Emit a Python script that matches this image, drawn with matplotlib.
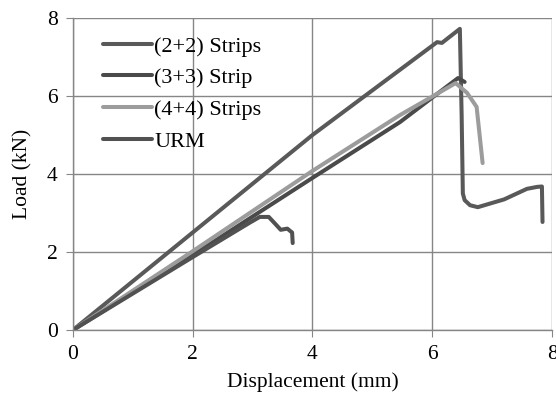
import matplotlib
matplotlib.use('Agg')
import matplotlib.pyplot as plt

plt.rcParams['font.family'] = ['Liberation Serif', 'DejaVu Serif']

# displacement (mm) / load (kN)
x_22 = [0, 2, 4, 6.08, 6.16, 6.46, 6.49, 6.51, 6.54, 6.63, 6.76, 7.2, 7.58, 7.75, 7.83, 7.84]
y_22 = [0, 2.5, 5.0, 7.38, 7.36, 7.72, 5.5, 3.5, 3.33, 3.2, 3.15, 3.35, 3.62, 3.67, 3.68, 2.77]

x_33 = [0, 2, 4, 5.46, 6.43, 6.54]
y_33 = [0, 1.92, 3.9, 5.33, 6.46, 6.36]

x_44 = [0, 2, 4, 5.46, 6.39, 6.58, 6.74, 6.84]
y_44 = [0, 2.02, 4.08, 5.51, 6.33, 6.08, 5.72, 4.28]

x_urm = [0, 2, 2.95, 3.12, 3.27, 3.38, 3.47, 3.58, 3.66, 3.67]
y_urm = [0, 1.87, 2.75, 2.9, 2.9, 2.72, 2.57, 2.6, 2.5, 2.23]

labels = ['(2+2) Strips', '(3+3) Strip', '(4+4) Strips', 'URM']

fig = plt.figure(figsize=(5.56, 4.08), dpi=100)
ax = fig.add_axes([0.131, 0.191, 0.862, 0.765])

lw = 2.9
ax.plot(x_22, y_22, color='#595959', lw=lw, label=labels[0], solid_joinstyle='round', solid_capstyle='round')
ax.plot(x_33, y_33, color='#4a4a4a', lw=lw, label=labels[1], solid_joinstyle='round', solid_capstyle='round')
ax.plot(x_44, y_44, color='#9c9c9c', lw=lw, label=labels[2], solid_joinstyle='round', solid_capstyle='round')
ax.plot(x_urm, y_urm, color='#515151', lw=lw, label=labels[3], solid_joinstyle='round', solid_capstyle='round')

ax.set_xlim(0, 8)
ax.set_ylim(0, 8)
ax.set_xticks([0, 2, 4, 6, 8])
ax.set_yticks([0, 2, 4, 6, 8])
ax.grid(color='#868686', lw=1)
ax.set_axisbelow(True)
for s in ['top', 'right']:
    ax.spines[s].set_visible(False)
for s in ['left', 'bottom']:
    ax.spines[s].set_color('#868686')
    ax.spines[s].set_linewidth(1)
ax.tick_params(direction='out', length=5, color='#868686', labelsize=15.5, pad=6)

ax.set_xlabel('Displacement (mm)', fontsize=15.5, labelpad=6)
ax.set_ylabel('Load (kN)', fontsize=15.5, labelpad=10)

ax.legend(loc='upper left', bbox_to_anchor=(0.035, 0.985), frameon=False, fontsize=16,
          handlelength=2.2, handletextpad=0.1, labelspacing=0.5, borderaxespad=0.2)

fig.savefig('out.png', dpi=100)
